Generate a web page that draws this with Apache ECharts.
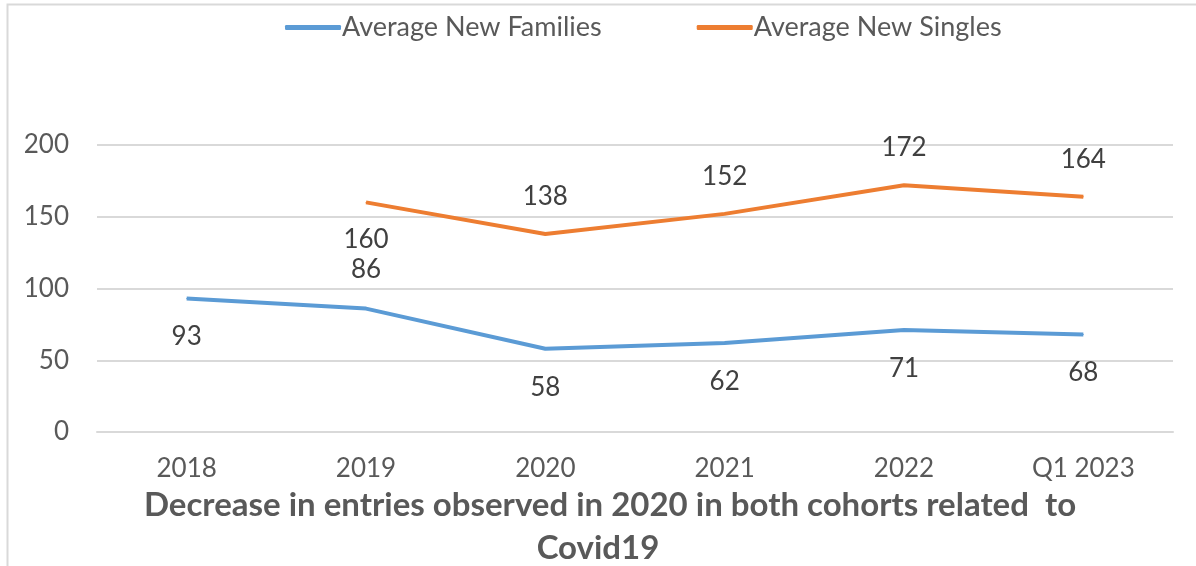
<!DOCTYPE html>
<html><head><meta charset="utf-8">
<script src="https://cdn.jsdelivr.net/npm/echarts@6/dist/echarts.min.js"></script>
<style>html,body{margin:0;padding:0;background:#fff}#c{width:1196px;height:566px}</style>
</head><body><div id="c"></div>
<script>
const categories = ['2018','2019','2020','2021','2022','Q1 2023'];
const families = [93, 86, 58, 62, 71, 68];
const singles = [null, 160, 138, 152, 172, 164];
const familiesLabelPos = ['bottom','top','bottom','bottom','bottom','bottom'];
const singlesLabelPos = ['bottom','bottom','top','top','top','top'];
const yTicks = [0, 50, 100, 150, 200];
const titleLines = ['Decrease in entries observed in 2020 in both cohorts related  to', 'Covid19'];

const FONT = 'Lato';
const TXT = '#595959';
function mk(vals, pos){
  return vals.map((v,i)=>({value:v, label:{position:pos[i]}}));
}
const titleStyle = {fontSize:33, fontWeight:'bold', color:TXT, fontFamily:FONT};
const chart = echarts.init(document.getElementById('c'));
chart.setOption({
  animation:false,
  textStyle:{fontFamily:FONT},
  legend:{
    top:9, left:280, itemWidth:56, itemHeight:5, itemGap:95,
    icon:'roundRect',
    textStyle:{fontSize:27, color:TXT, fontFamily:FONT, padding:[0,0,0,-4]},
    data:['Average New Families','Average New Singles']
  },
  title:[
    {text:titleLines[0], left:610, textAlign:'center', top:489, padding:0, textStyle:titleStyle},
    {text:titleLines[1], left:598, textAlign:'center', top:532, padding:0, textStyle:titleStyle}
  ],
  grid:{left:97, right:23, top:145, bottom:134},
  xAxis:{
    type:'category', data:categories, boundaryGap:true,
    axisLine:{show:true, lineStyle:{color:'#d9d9d9', width:2}},
    axisTick:{show:false},
    axisLabel:{fontSize:26, color:TXT, margin:24, fontFamily:FONT}
  },
  yAxis:{
    type:'value', min:yTicks[0], max:yTicks[yTicks.length-1], interval:50,
    axisLine:{show:false}, axisTick:{show:false},
    axisLabel:{fontSize:26, color:TXT, margin:28, fontFamily:FONT},
    splitLine:{lineStyle:{color:'#d9d9d9', width:2}}
  },
  graphic:[{type:'rect', shape:{x:7.5,y:4.5,width:1400,height:800}, style:{fill:'none', stroke:'#d9d9d9', lineWidth:2}, silent:true}],
  series:[
    {name:'Average New Families', type:'line', data:mk(families, familiesLabelPos),
     symbol:'circle', symbolSize:1, showSymbol:true, lineStyle:{color:'#5B9BD5', width:4}, itemStyle:{color:'#5B9BD5'},
     label:{show:true, fontSize:26, color:'#404040', distance:25, fontFamily:FONT}},
    {name:'Average New Singles', type:'line', data:mk(singles, singlesLabelPos),
     symbol:'circle', symbolSize:1, showSymbol:true, lineStyle:{color:'#ED7D31', width:4}, itemStyle:{color:'#ED7D31'},
     label:{show:true, fontSize:26, color:'#404040', distance:24, fontFamily:FONT}}
  ]
});
</script></body></html>
